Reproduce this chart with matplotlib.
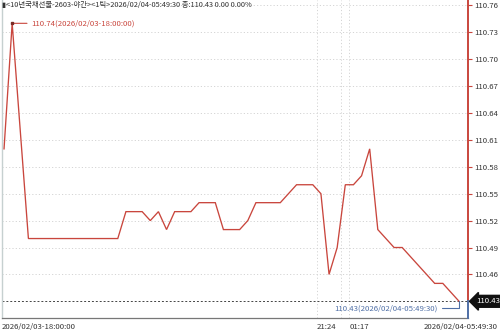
import matplotlib
matplotlib.use("Agg")
import matplotlib.pyplot as plt
import numpy as np

plt.rcParams['font.family'] = ['Liberation Sans Narrow', 'Noto Sans CJK KR', 'DejaVu Sans']

# ---- data ----
title = "<10년국채선물-2603-야간><1틱>2026/02/04-05:49:30 종:110.43 0.00 0.00%"
prices = [110.60, 110.74, 110.62,
          110.50, 110.50, 110.50, 110.50, 110.50, 110.50, 110.50, 110.50, 110.50, 110.50, 110.50, 110.50,
          110.53, 110.53, 110.53, 110.52, 110.53, 110.51, 110.53, 110.53, 110.53,
          110.54, 110.54, 110.54, 110.51, 110.51, 110.51, 110.52,
          110.54, 110.54, 110.54, 110.54, 110.55, 110.56, 110.56, 110.56, 110.55,
          110.46, 110.49, 110.56, 110.56, 110.57, 110.60, 110.51, 110.50,
          110.49, 110.49, 110.48, 110.47, 110.46, 110.45, 110.45, 110.44, 110.43]
y_ticks = [110.43, 110.46, 110.49, 110.52, 110.55, 110.58, 110.61, 110.64, 110.67, 110.70, 110.73, 110.76]
x_labels = ["2026/02/03-18:00:00", "21:24", "01:17", "2026/02/04-05:49:30"]
x_label_pos = [0, 38.5, 42.5, 56]
v_grid = [38.5, 41.5, 42.5]
high_label = "110.74(2026/02/03-18:00:00)"
last_label = "110.43(2026/02/04-05:49:30)"

RED = "#c9463d"
BLUE = "#4f6fa6"
GRID = "#d4d4d4"
TXT = "#333333"

W, H = 500, 330
fig = plt.figure(figsize=(W / 100, H / 100), dpi=100)
ax = fig.add_axes([2 / W, 12 / H, 466 / W, 318 / H])

x = np.arange(len(prices))
ax.plot(x, prices, color=RED, lw=0.95, solid_joinstyle='miter', zorder=3)

ax.set_xlim(-0.25, 57.1)
ax.set_ylim(110.4114, 110.766)

# grid
for t in y_ticks[1:]:
    ax.axhline(t, color=GRID, lw=0.7, ls=(0, (1.2, 2.2)), zorder=1)
for v in v_grid:
    ax.axvline(v, color=GRID, lw=0.7, ls=(0, (1.2, 2.2)), zorder=1)

last = prices[-1]
ax.axhline(last, color="#444444", lw=0.7, ls=(0, (2, 2)), zorder=2)

# spines
for s in ['top', 'right']:
    ax.spines[s].set_visible(False)
ax.spines['left'].set_color("#c6d0d0")
ax.spines['left'].set_linewidth(1.0)
ax.spines['bottom'].set_color("#777777")
ax.spines['bottom'].set_linewidth(0.9)

ylo, yhi = ax.get_ylim()
frac = (last - ylo) / (yhi - ylo)
ax.axvline(57.1, ymin=frac, ymax=1, color=RED, lw=1.4, clip_on=False, zorder=4)
ax.axvline(57.1, ymin=0, ymax=frac, color=BLUE, lw=1.4, clip_on=False, zorder=4)

# y ticks on right
ax.yaxis.tick_right()
ax.set_yticks(y_ticks)
ax.set_yticklabels([f"{t:.2f}" if t != last else "" for t in y_ticks])
ax.tick_params(axis='y', colors=RED, length=3, width=0.8, pad=1.5, labelsize=5.6, labelcolor=TXT)
ax.set_xticks([])

# x labels
trans = ax.get_xaxis_transform()
ax.text(ax.get_xlim()[0], -0.015, x_labels[0], transform=trans, ha='left', va='top',
        fontsize=5.6, color=TXT)
for lab, pos in zip(x_labels[1:3], x_label_pos[1:3]):
    ax.text(pos, -0.015, lab, transform=trans, ha='left', va='top', fontsize=5.6, color=TXT)
fig.text(498 / W, (12 - 5) / H, x_labels[3], ha='right', va='top', fontsize=5.6, color=TXT)

# title
fig.text(2 / W, 1 - 5 / H, "▮" + title, ha='left', va='center', fontsize=5.3, color=TXT)

# high annotation
hi_i = int(np.argmax(prices))
ax.plot([hi_i], [prices[hi_i]], marker='s', ms=2, color="#7a2a25", zorder=5)
ax.annotate(high_label, xy=(hi_i, prices[hi_i]), xytext=(19, 0), textcoords='offset pixels',
            ha='left', va='center', fontsize=5.6, color=RED,
            arrowprops=dict(arrowstyle='-', color=RED, lw=0.8, shrinkA=1, shrinkB=0))

# last annotation
ax.annotate(last_label, xy=(len(prices) - 1, last), xytext=(-21, -7), textcoords='offset pixels',
            ha='right', va='center', fontsize=5.6, color=BLUE,
            arrowprops=dict(arrowstyle='-', color=BLUE, lw=0.8, shrinkA=1, shrinkB=0,
                            connectionstyle='angle,angleA=0,angleB=90,rad=0'))

# current price box
ax.annotate(f"{last:.2f}", xy=(1.0, last), xycoords=ax.get_yaxis_transform(),
            xytext=(8, 0), textcoords='offset pixels', ha='left', va='center',
            fontsize=5.6, color='white', annotation_clip=False, zorder=6,
            bbox=dict(boxstyle='larrow,pad=0.25', fc='#111111', ec='#111111'))

fig.savefig("out.png", dpi=100)
